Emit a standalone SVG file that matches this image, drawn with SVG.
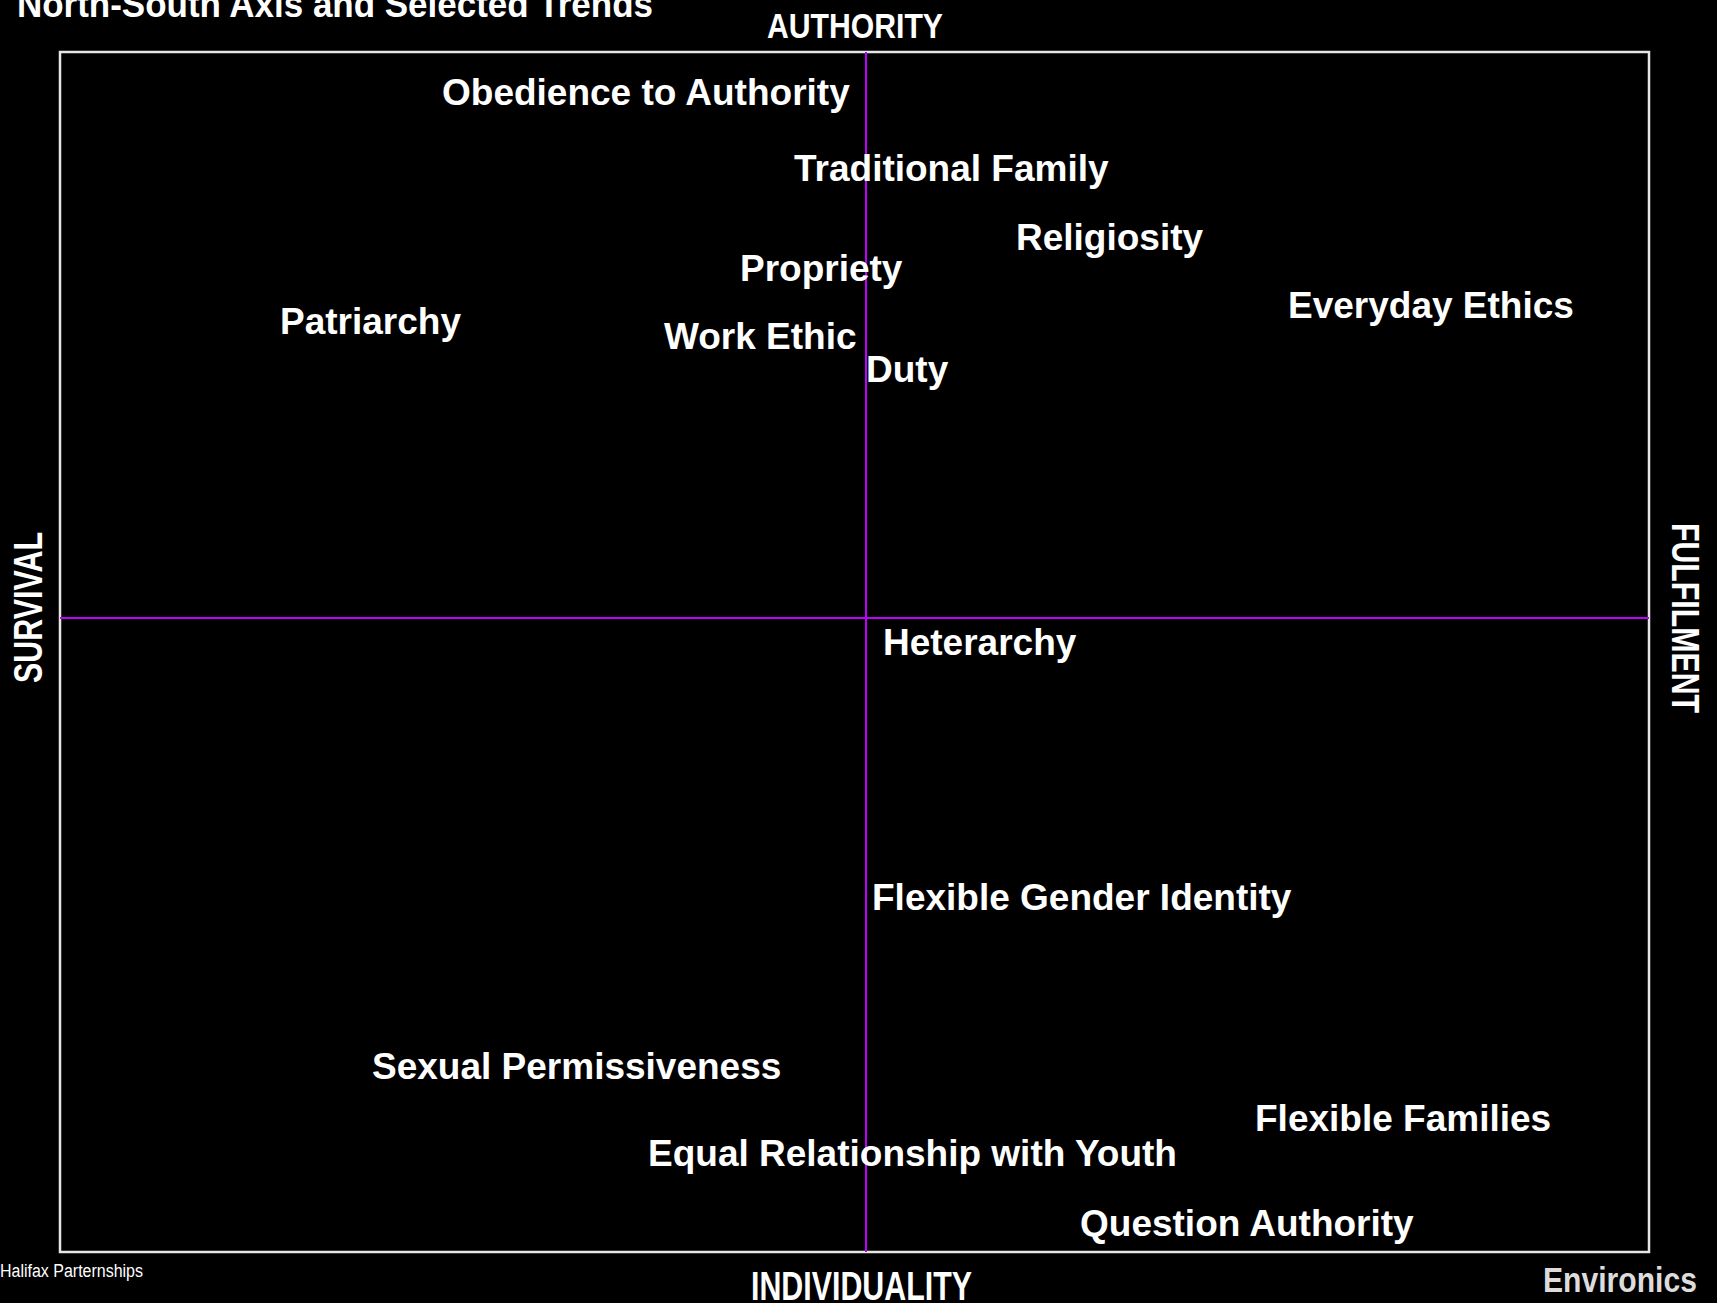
<svg xmlns="http://www.w3.org/2000/svg" width="1717" height="1303" viewBox="0 0 1717 1303">
<style>
.lbl{font-family:"Liberation Sans",Arial,sans-serif;font-weight:bold;font-size:37px;fill:#fff}
.ax{font-family:"Liberation Sans",Arial,sans-serif;fill:#fff}
.axb{font-family:"Liberation Sans",Arial,sans-serif;font-weight:bold;fill:#fff}
</style>
<rect x="0" y="0" width="1717" height="1303" fill="#000"/>
<g id="frame">
<rect x="60" y="52" width="1589" height="1200" fill="none" stroke="#e6e6e6" stroke-width="2.5"/>
</g>
<g id="connectors">
<line x1="866" y1="52" x2="866" y2="1252" stroke="#c000ff" stroke-width="2"/>
<line x1="60" y1="618" x2="1649" y2="618" stroke="#c000ff" stroke-width="2"/>
</g>
<g id="title"><text class="axb" x="17" y="17" font-size="36" textLength="636" lengthAdjust="spacingAndGlyphs">North-South Axis and Selected Trends</text></g>
<g id="axis-authority"><text class="axb" x="767" y="38" font-size="35" textLength="176" lengthAdjust="spacingAndGlyphs">AUTHORITY</text></g>
<g id="axis-individuality"><text class="axb" x="751" y="1300" font-size="40" textLength="221" lengthAdjust="spacingAndGlyphs">INDIVIDUALITY</text></g>
<g id="axis-survival"><text class="axb" transform="translate(42,683) rotate(-90)" x="0" y="0" font-size="40" textLength="151" lengthAdjust="spacingAndGlyphs">SURVIVAL</text></g>
<g id="axis-fulfilment"><text class="axb" transform="translate(1672,523) rotate(90)" x="0" y="0" font-size="39" textLength="190" lengthAdjust="spacingAndGlyphs">FULFILMENT</text></g>
<g id="credit"><text class="ax" x="0" y="1277" font-size="18" textLength="143" lengthAdjust="spacingAndGlyphs">Halifax Parternships</text></g>
<g id="logo"><text class="axb" x="1543" y="1292" font-size="35" style="fill:#dcdcdc" textLength="154" lengthAdjust="spacingAndGlyphs">Environics</text></g>
<g id="n-obedience"><text class="lbl" x="442" y="105">Obedience to Authority</text></g>
<g id="n-traditional"><text class="lbl" x="794" y="181">Traditional Family</text></g>
<g id="n-religiosity"><text class="lbl" x="1016" y="250">Religiosity</text></g>
<g id="n-propriety"><text class="lbl" x="740" y="281">Propriety</text></g>
<g id="n-everyday"><text class="lbl" x="1288" y="318">Everyday Ethics</text></g>
<g id="n-patriarchy"><text class="lbl" x="280" y="334">Patriarchy</text></g>
<g id="n-workethic"><text class="lbl" x="664" y="349">Work Ethic</text></g>
<g id="n-duty"><text class="lbl" x="866" y="382">Duty</text></g>
<g id="n-heterarchy"><text class="lbl" x="883" y="655">Heterarchy</text></g>
<g id="n-gender"><text class="lbl" x="872" y="910">Flexible Gender Identity</text></g>
<g id="n-sexual"><text class="lbl" x="372" y="1079">Sexual Permissiveness</text></g>
<g id="n-families"><text class="lbl" x="1255" y="1131">Flexible Families</text></g>
<g id="n-equal"><text class="lbl" x="648" y="1166">Equal Relationship with Youth</text></g>
<g id="n-question"><text class="lbl" x="1080" y="1236">Question Authority</text></g>
</svg>
